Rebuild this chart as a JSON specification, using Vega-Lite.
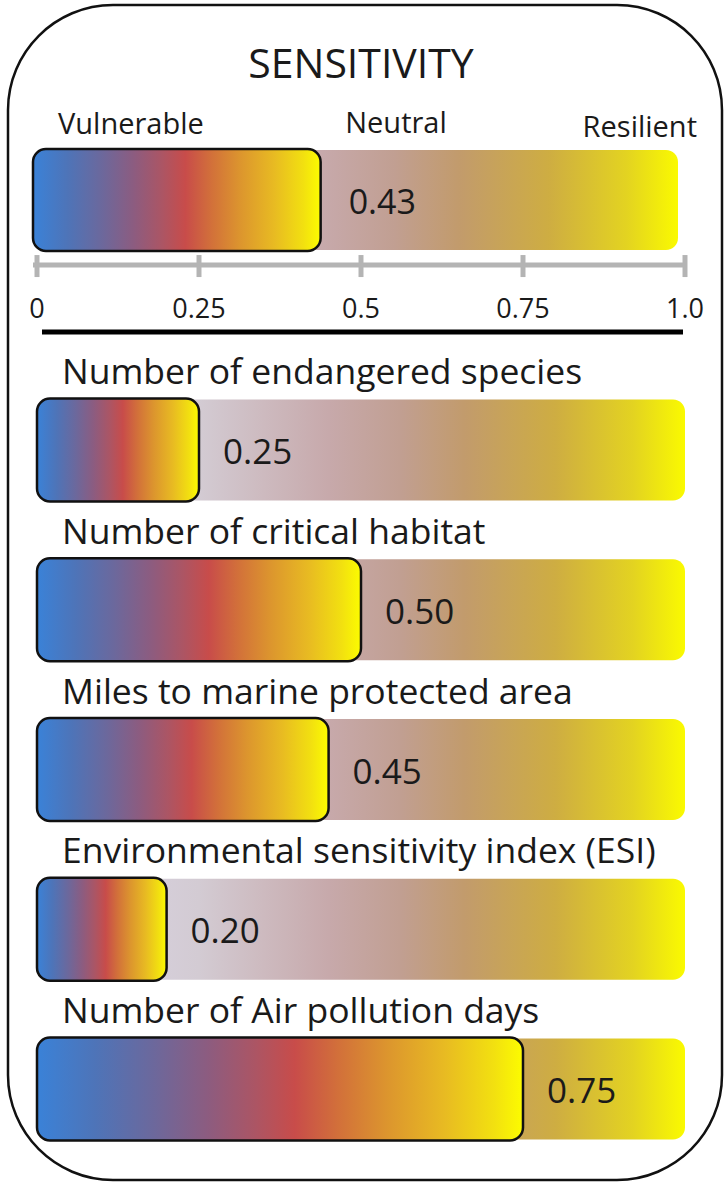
{
  "$schema": "https://vega.github.io/schema/vega-lite/v6.json",
  "width": 725,
  "height": 1182,
  "autosize": {"type": "fit", "contains": "padding"},
  "padding": {"left": 8, "right": 3, "top": 5, "bottom": 2},
  "background": "white",
  "config": {
    "view": {"stroke": "#111111", "strokeWidth": 2.5, "cornerRadius": 105, "fill": "white"},
    "text": {"font": "Open Sans", "color": "#1a1a1a"}
  },
  "datasets": {
    "header": [{"name": "SENSITIVITY", "value": 0.43, "min": 0, "max": 1}],
    "labels": [
      {"name": "SENSITIVITY", "label": "SENSITIVITY", "at": 0.5},
      {"name": "SENSITIVITY", "label": "Vulnerable", "at": 0},
      {"name": "SENSITIVITY", "label": "Neutral", "at": 0.5},
      {"name": "SENSITIVITY", "label": "Resilient", "at": 1}
    ],
    "ticks": [
      {"name": "SENSITIVITY", "t": 0, "label": "0"},
      {"name": "SENSITIVITY", "t": 0.25, "label": "0.25"},
      {"name": "SENSITIVITY", "t": 0.5, "label": "0.5"},
      {"name": "SENSITIVITY", "t": 0.75, "label": "0.75"},
      {"name": "SENSITIVITY", "t": 1, "label": "1.0"}
    ],
    "indicators": [
      {"name": "Number of endangered species", "value": 0.25, "min": 0, "max": 1},
      {"name": "Number of critical habitat", "value": 0.50, "min": 0, "max": 1},
      {"name": "Miles to marine protected area", "value": 0.45, "min": 0, "max": 1},
      {"name": "Environmental sensitivity index (ESI)", "value": 0.20, "min": 0, "max": 1},
      {"name": "Number of Air pollution days", "value": 0.75, "min": 0, "max": 1}
    ]
  },
  "resolve": {"scale": {"y": "independent"}},
  "layer": [
    {
      "data": {"name": "header"},
      "layer": [
        {
          "mark": {"type": "bar", "height": 100, "cornerRadius": 12, "xOffset": -4, "x2Offset": -7,
            "fill": {"gradient": "linear", "x1": 0, "y1": 0, "x2": 1, "y2": 0, "stops": [
              {"offset": 0, "color": "#dcd8ec"}, {"offset": 0.25, "color": "#d3cbd3"}, {"offset": 0.45, "color": "#c7a9ab"},
              {"offset": 0.56, "color": "#c19f92"}, {"offset": 0.66, "color": "#c29b6c"}, {"offset": 0.8, "color": "#cead42"},
              {"offset": 0.92, "color": "#e3d321"}, {"offset": 1, "color": "#fafa00"}]}},
          "encoding": {
            "y": {"field": "name", "type": "nominal", "scale": {"type": "point", "domain": ["SENSITIVITY"], "align": 0.166}, "axis": null},
            "x": {"field": "min", "type": "quantitative", "scale": {"domain": [-0.04475, 1.0571], "nice": false, "zero": false}, "axis": null},
            "x2": {"field": "max"}
          }
        },
        {
          "mark": {"type": "bar", "height": 102, "cornerRadius": 13, "xOffset": -4, "x2Offset": 5, "stroke": "#111111", "strokeWidth": 2.5,
            "fill": {"gradient": "linear", "x1": 0, "y1": 0, "x2": 1, "y2": 0, "stops": [
              {"offset": 0, "color": "#3a82d8"}, {"offset": 0.12, "color": "#4e74b8"}, {"offset": 0.24, "color": "#6c689c"},
              {"offset": 0.35, "color": "#8c5c80"}, {"offset": 0.45, "color": "#ac5564"}, {"offset": 0.53, "color": "#c84c4a"},
              {"offset": 0.62, "color": "#d2703a"}, {"offset": 0.72, "color": "#dc952e"}, {"offset": 0.84, "color": "#e8bb22"},
              {"offset": 0.94, "color": "#f2e010"}, {"offset": 1, "color": "#fcfc00"}]}},
          "encoding": {
            "y": {"field": "name", "type": "nominal", "axis": null},
            "x": {"field": "min", "type": "quantitative", "axis": null},
            "x2": {"field": "value"}
          }
        },
        {
          "mark": {"type": "text", "align": "left", "baseline": "alphabetic", "dx": 33, "dy": 14, "fontSize": 34},
          "encoding": {
            "y": {"field": "name", "type": "nominal", "axis": null},
            "x": {"field": "value", "type": "quantitative", "axis": null},
            "text": {"field": "value", "type": "quantitative", "format": ".2f"}
          }
        },
        {
          "mark": {"type": "rule", "color": "#b4b4b4", "strokeWidth": 5, "yOffset": 65, "xOffset": -4, "x2Offset": 2},
          "encoding": {
            "y": {"field": "name", "type": "nominal", "axis": null},
            "x": {"field": "min", "type": "quantitative", "axis": null},
            "x2": {"field": "max"}
          }
        },
        {
          "mark": {"type": "rule", "color": "#000000", "strokeWidth": 5, "yOffset": 132, "xOffset": 5, "x2Offset": -2},
          "encoding": {
            "y": {"field": "name", "type": "nominal", "axis": null},
            "x": {"field": "min", "type": "quantitative", "axis": null},
            "x2": {"field": "max"}
          }
        },
        {
          "data": {"name": "labels"},
          "transform": [{"filter": "datum.label == 'SENSITIVITY'"}],
          "mark": {"type": "text", "align": "center", "baseline": "alphabetic", "dy": -122, "fontSize": 41},
          "encoding": {
            "y": {"field": "name", "type": "nominal", "axis": null},
            "x": {"field": "at", "type": "quantitative", "axis": null},
            "text": {"field": "label", "type": "nominal"}
          }
        },
        {
          "data": {"name": "labels"},
          "transform": [{"filter": "datum.label == 'Vulnerable'"}],
          "mark": {"type": "text", "align": "left", "baseline": "alphabetic", "dx": 21, "dy": -66, "fontSize": 29},
          "encoding": {
            "y": {"field": "name", "type": "nominal", "axis": null},
            "x": {"field": "at", "type": "quantitative", "axis": null},
            "text": {"field": "label", "type": "nominal"}
          }
        },
        {
          "data": {"name": "labels"},
          "transform": [{"filter": "datum.label == 'Neutral'"}],
          "mark": {"type": "text", "align": "center", "baseline": "alphabetic", "dx": 35, "dy": -67, "fontSize": 29},
          "encoding": {
            "y": {"field": "name", "type": "nominal", "axis": null},
            "x": {"field": "at", "type": "quantitative", "axis": null},
            "text": {"field": "label", "type": "nominal"}
          }
        },
        {
          "data": {"name": "labels"},
          "transform": [{"filter": "datum.label == 'Resilient'"}],
          "mark": {"type": "text", "align": "right", "baseline": "alphabetic", "dx": 12, "dy": -63, "fontSize": 29},
          "encoding": {
            "y": {"field": "name", "type": "nominal", "axis": null},
            "x": {"field": "at", "type": "quantitative", "axis": null},
            "text": {"field": "label", "type": "nominal"}
          }
        },
        {
          "data": {"name": "ticks"},
          "mark": {"type": "tick", "color": "#b4b4b4", "size": 22, "thickness": 5, "yOffset": 66, "opacity": 1},
          "encoding": {
            "y": {"field": "name", "type": "nominal", "axis": null},
            "x": {"field": "t", "type": "quantitative", "axis": null}
          }
        },
        {
          "data": {"name": "ticks"},
          "mark": {"type": "text", "align": "center", "baseline": "alphabetic", "dy": 118, "fontSize": 27},
          "encoding": {
            "y": {"field": "name", "type": "nominal", "axis": null},
            "x": {"field": "t", "type": "quantitative", "axis": null},
            "text": {"field": "label", "type": "nominal"}
          }
        }
      ]
    },
    {
      "data": {"name": "indicators"},
      "layer": [
        {
          "mark": {"type": "bar", "height": 101, "cornerRadius": 12,
            "fill": {"gradient": "linear", "x1": 0, "y1": 0, "x2": 1, "y2": 0, "stops": [
              {"offset": 0, "color": "#dcd8ec"}, {"offset": 0.25, "color": "#d3cbd3"}, {"offset": 0.45, "color": "#c7a9ab"},
              {"offset": 0.56, "color": "#c19f92"}, {"offset": 0.66, "color": "#c29b6c"}, {"offset": 0.8, "color": "#cead42"},
              {"offset": 0.92, "color": "#e3d321"}, {"offset": 1, "color": "#fafa00"}]}},
          "encoding": {
            "y": {"field": "name", "type": "nominal",
              "scale": {"type": "point", "domain": ["gap1", "gap2", "Number of endangered species", "Number of critical habitat", "Miles to marine protected area", "Environmental sensitivity index (ESI)", "Number of Air pollution days"], "padding": 0.6777, "align": 0.5797},
              "axis": null},
            "x": {"field": "min", "type": "quantitative", "axis": null},
            "x2": {"field": "max"}
          }
        },
        {
          "mark": {"type": "bar", "height": 103, "cornerRadius": 13, "stroke": "#111111", "strokeWidth": 2.5,
            "fill": {"gradient": "linear", "x1": 0, "y1": 0, "x2": 1, "y2": 0, "stops": [
              {"offset": 0, "color": "#3a82d8"}, {"offset": 0.12, "color": "#4e74b8"}, {"offset": 0.24, "color": "#6c689c"},
              {"offset": 0.35, "color": "#8c5c80"}, {"offset": 0.45, "color": "#ac5564"}, {"offset": 0.53, "color": "#c84c4a"},
              {"offset": 0.62, "color": "#d2703a"}, {"offset": 0.72, "color": "#dc952e"}, {"offset": 0.84, "color": "#e8bb22"},
              {"offset": 0.94, "color": "#f2e010"}, {"offset": 1, "color": "#fcfc00"}]}},
          "encoding": {
            "y": {"field": "name", "type": "nominal", "axis": null},
            "x": {"field": "min", "type": "quantitative", "axis": null},
            "x2": {"field": "value"}
          }
        },
        {
          "mark": {"type": "text", "align": "left", "baseline": "alphabetic", "dx": 24, "dy": 14, "fontSize": 35},
          "encoding": {
            "y": {"field": "name", "type": "nominal", "axis": null},
            "x": {"field": "value", "type": "quantitative", "axis": null},
            "text": {"field": "value", "type": "quantitative", "format": ".2f"}
          }
        },
        {
          "mark": {"type": "text", "align": "left", "baseline": "alphabetic", "dx": 25, "dy": -66, "fontSize": 35.5},
          "encoding": {
            "y": {"field": "name", "type": "nominal", "axis": null},
            "x": {"field": "min", "type": "quantitative", "axis": null},
            "text": {"field": "name", "type": "nominal"}
          }
        }
      ]
    }
  ]
}
